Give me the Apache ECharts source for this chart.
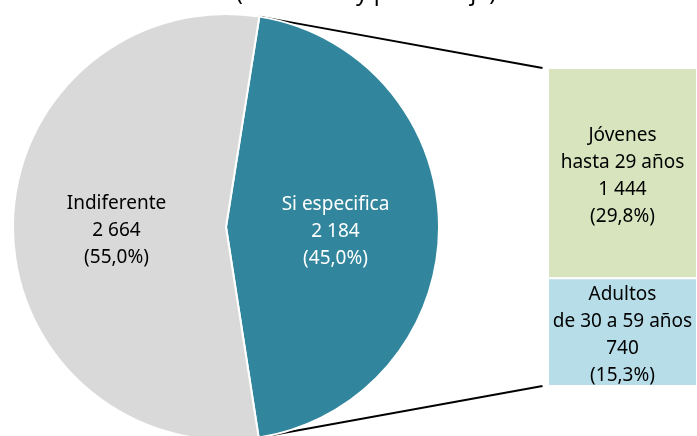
<!DOCTYPE html>
<html>
<head>
<meta charset="utf-8">
<script src="https://cdn.jsdelivr.net/npm/echarts@6/dist/echarts.min.js"></script>
<style>html,body{margin:0;padding:0;background:#fff;}#c{width:697px;height:436px;}</style>
</head>
<body>
<div id="c"></div>
<script>
const titleText = '(Absolutos y porcentaje)';
const pieCategories = ['Si especifica', 'Indiferente'];
const pieValues = [2184, 2664];
const pieColors = ['#31859C', '#D9D9D9'];
const pieLabelColors = ['#ffffff', '#000000'];
const barCategories = ['Adultos\nde 30 a 59 años', 'Jóvenes\nhasta 29 años'];
const barValues = [740, 1444];
const barColors = ['#B7DEE8', '#D7E4BD'];

const FONT = 'Noto Sans';
const total = pieValues.reduce((a, b) => a + b, 0);
const fmtNum = v => String(v).replace(/\B(?=(\d{3})+(?!\d))/g, ' ');
const fmtPct = v => (v / total * 100).toFixed(1).replace('.', ',') + '%';

const pieCenter = [226, 227];
const pieRadius = 213;
const startAngle = 81;
const gridLeft = 548, gridTop = 68, gridWidth = 158, gridBottom = 50;

const chart = echarts.init(document.getElementById('c'), null, {renderer: 'canvas'});

const barSeries = barCategories.map((name, i) => ({
  type: 'bar',
  name: name,
  stack: 'total',
  data: [barValues[i]],
  barWidth: '100%',
  itemStyle: {color: barColors[i], borderColor: '#ffffff', borderWidth: 1},
  label: {
    show: true, position: 'inside', color: '#000000',
    fontFamily: FONT, fontSize: 19, lineHeight: 27, offset: [0, 3],
    formatter: p => p.seriesName + '\n' + fmtNum(p.value) + '\n(' + fmtPct(p.value) + ')'
  },
  silent: true
}));

chart.setOption({
  animation: false,
  backgroundColor: '#ffffff',
  grid: {left: gridLeft, top: gridTop, width: gridWidth, bottom: gridBottom, containLabel: false},
  xAxis: {type: 'category', data: ['x'], show: false},
  yAxis: {type: 'value', min: 0, max: barValues.reduce((a, b) => a + b, 0), show: false},
  series: [
    {
      type: 'pie',
      center: pieCenter,
      radius: pieRadius,
      startAngle: startAngle,
      clockwise: true,
      data: pieCategories.map((n, i) => ({
        name: n, value: pieValues[i],
        itemStyle: {color: pieColors[i]},
        label: {color: pieLabelColors[i]}
      })),
      itemStyle: {borderColor: '#ffffff', borderWidth: 2},
      label: {
        show: true, position: 'inside',
        fontFamily: FONT, fontSize: 19, lineHeight: 27, offset: [0, 4],
        formatter: p => p.name + '\n' + fmtNum(p.value) + '\n(' + fmtPct(p.value) + ')'
      },
      labelLine: {show: false},
      emphasis: {disabled: true},
      silent: true
    }
  ].concat(barSeries)
});

// connector lines: from the pie slice edges to the bar corners
const barTotal = barValues.reduce((a, b) => a + b, 0);
const a0 = startAngle * Math.PI / 180;
const a1 = (startAngle - 360 * pieValues[0] / total) * Math.PI / 180;
const p0 = [pieCenter[0] + pieRadius * Math.cos(a0), pieCenter[1] - pieRadius * Math.sin(a0)];
const p1 = [pieCenter[0] + pieRadius * Math.cos(a1), pieCenter[1] - pieRadius * Math.sin(a1)];
const topPt = chart.convertToPixel({gridIndex: 0}, ['x', barTotal]);
const botPt = chart.convertToPixel({gridIndex: 0}, ['x', 0]);
const barLeft = topPt[0] - gridWidth / 2;

chart.setOption({
  graphic: [
    {type: 'line', shape: {x1: p0[0], y1: p0[1], x2: barLeft - 1, y2: topPt[1]}, style: {stroke: '#000', lineWidth: 2}, silent: true},
    {type: 'line', shape: {x1: p1[0], y1: p1[1], x2: barLeft - 1, y2: botPt[1]}, style: {stroke: '#000', lineWidth: 2}, silent: true},
    {type: 'text', x: 366, y: 5, style: {text: titleText, fontFamily: FONT, fontSize: 23, fill: '#000', align: 'center', verticalAlign: 'bottom'}, silent: true}
  ]
});
</script>
</body>
</html>
